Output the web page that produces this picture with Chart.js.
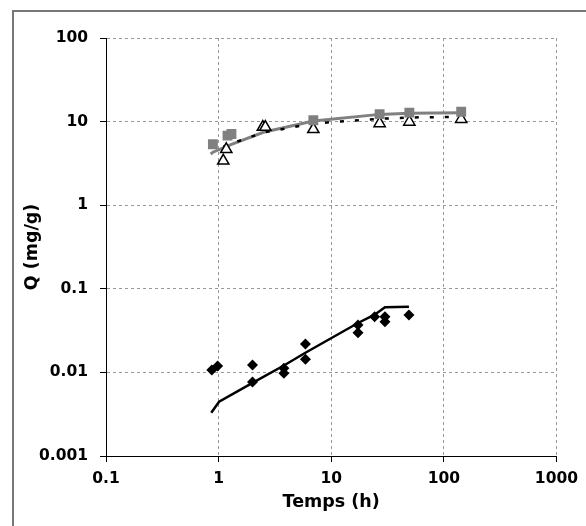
<!DOCTYPE html>
<html><head><meta charset="utf-8">
<script src="https://cdn.jsdelivr.net/npm/chart.js@4/dist/chart.umd.min.js"></script>
<style>html,body{margin:0;padding:0;background:#fff}#wrap{width:586px;height:526px}</style>
</head><body><div id="wrap"><canvas id="c" width="586" height="526"></canvas></div>
<script>
// Tick labels
const xTicks = [0.1, 1, 10, 100, 1000];
const yTicks = [0.001, 0.01, 0.1, 1, 10, 100];

// Gray squares (measured)
const squareX = [0.89, 1.2, 1.3, 6.94, 26.9, 49.4, 142.6];
const squareY = [5.35, 6.8, 7.1, 10.4, 12.3, 12.8, 13.1];
// Open triangles (measured)
const triX = [1.1, 1.17, 2.47, 2.6, 6.94, 26.9, 49.4, 142.6];
const triY = [3.4, 4.66, 8.6, 8.6, 8.1, 9.5, 9.9, 10.7];
// Black diamonds (measured)
const diaX = [0.87, 0.98, 2.0, 2.0, 3.8, 3.8, 5.9, 5.9, 17.3, 17.3, 24.3, 30, 30, 49];
const diaY = [0.0107, 0.0119, 0.0123, 0.0077, 0.0112, 0.0098, 0.0219, 0.0144, 0.0369, 0.0299, 0.0464, 0.0464, 0.0404, 0.0486];

// Model curves
const grayLineX = [0.85, 0.89, 1.1, 1.2, 1.3, 2.5, 6.94, 26.9, 49.4, 142.6];
const grayLineY = [4.1, 4.3, 4.85, 5.1, 5.35, 7.45, 10.15, 12.2, 12.6, 12.8];
const dashLineX = [1.1, 1.17, 2.5, 6.94, 26.9, 49.4, 142.6];
const dashLineY = [5.0, 5.2, 7.4, 9.5, 10.8, 11.2, 11.4];
const blackLineX = [0.86, 1.01, 2.0, 3.8, 5.9, 17.3, 24.3, 30, 49];
const blackLineY = [0.0033, 0.00446, 0.0075, 0.0121, 0.0172, 0.039, 0.049, 0.060, 0.061];

const pts = (xs, ys) => xs.map((x, i) => ({x: x, y: ys[i]}));

const frame = {
  id: 'frame',
  beforeDraw(chart) {
    const ctx = chart.ctx;
    ctx.save();
    ctx.fillStyle = '#fff';
    ctx.fillRect(0, 0, chart.width, chart.height);
    ctx.strokeStyle = '#777';
    ctx.lineWidth = 2;
    ctx.beginPath();
    ctx.moveTo(13, 600);
    ctx.lineTo(13, 11);
    ctx.lineTo(600, 11);
    ctx.stroke();
    ctx.restore();
  }
};

const tickFont = {family: 'DejaVu Sans', weight: 'bold', size: 15.5};
const titleFont = {family: 'DejaVu Sans', weight: 'bold', size: 17.5};

new Chart(document.getElementById('c'), {
  type: 'scatter',
  data: {
    datasets: [
      {data: pts(squareX, squareY), pointStyle: 'rect', pointRadius: 7, backgroundColor: '#808080', borderColor: '#808080', borderWidth: 0, showLine: false, order: 0},
      {data: pts(triX, triY), pointStyle: 'triangle', pointRadius: 6.5, backgroundColor: '#fff', borderColor: '#000', borderWidth: 1.5, showLine: false, order: 0},
      {data: pts(diaX, diaY), pointStyle: 'rectRot', pointRadius: 5.5, backgroundColor: '#000', borderColor: '#000', borderWidth: 0, showLine: false, order: 0},
      {data: pts(grayLineX, grayLineY), showLine: true, pointRadius: 0, borderColor: '#808080', borderWidth: 3, tension: 0, order: 2},
      {data: pts(dashLineX, dashLineY), showLine: true, pointRadius: 0, borderColor: '#000', borderWidth: 2.5, borderDash: [4, 11], tension: 0, order: 1},
      {data: pts(blackLineX, blackLineY), showLine: true, pointRadius: 0, borderColor: '#000', borderWidth: 2.5, tension: 0, order: 1}
    ]
  },
  options: {
    responsive: false,
    animation: false,
    devicePixelRatio: 1,
    layout: {padding: {left: 14, right: 26, top: 38, bottom: 8}},
    plugins: {legend: {display: false}, tooltip: {enabled: false}},
    scales: {
      x: {
        type: 'logarithmic', min: 0.1, max: 1000,
        afterBuildTicks: s => { s.ticks = xTicks.map(v => ({value: v})); },
        afterFit: s => { s.height = 62; },
        ticks: {font: tickFont, color: '#000', padding: 8, maxRotation: 0, autoSkip: false, callback: v => String(v)},
        grid: {color: '#999', tickColor: '#000', tickLength: 6, lineWidth: 1},
        border: {display: true, color: '#000', width: 1, dash: [3, 3]},
        title: {display: true, text: 'Temps (h)', font: titleFont, color: '#000', padding: {top: 0, bottom: 5}}
      },
      y: {
        type: 'logarithmic', min: 0.001, max: 100,
        afterBuildTicks: s => { s.ticks = yTicks.map(v => ({value: v})); },
        afterFit: s => { s.width = 92; },
        ticks: {font: tickFont, color: '#000', padding: 12, autoSkip: false, callback: v => String(v)},
        grid: {color: '#999', tickColor: '#000', tickLength: 6, lineWidth: 1},
        border: {display: true, color: '#000', width: 1, dash: [3, 3]},
        title: {display: true, text: 'Q (mg/g)', font: titleFont, color: '#000', padding: {top: 8, bottom: 0}}
      }
    }
  },
  plugins: [frame]
});
</script>
</body></html>
